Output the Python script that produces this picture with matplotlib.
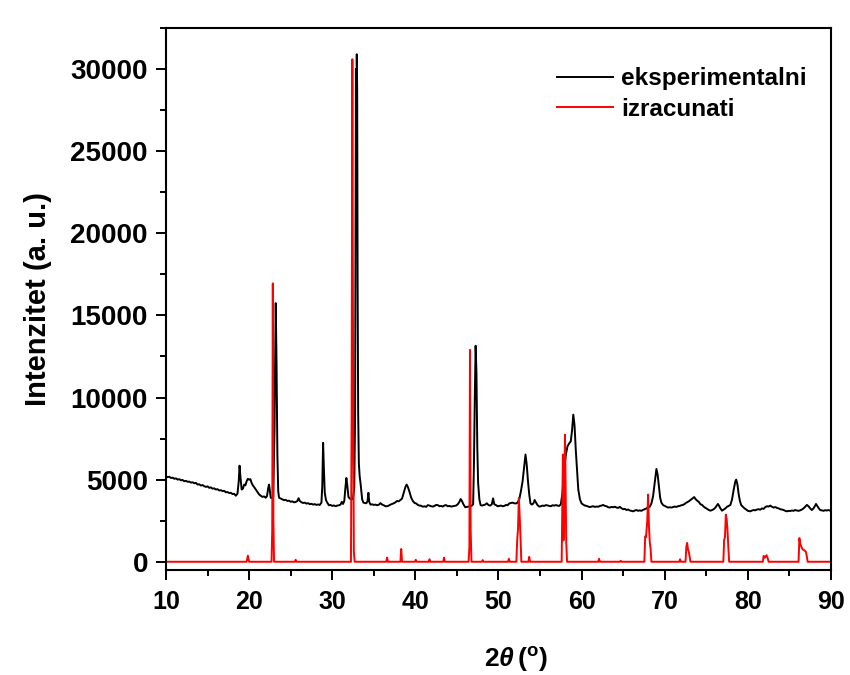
import matplotlib
matplotlib.use('Agg')
import matplotlib.pyplot as plt
from matplotlib.ticker import MultipleLocator

exp_x = [10.0, 10.2, 10.4, 10.6, 10.8, 11.0, 11.2, 11.4, 11.6, 11.8, 12.0, 12.2, 12.4, 12.6, 12.8,
         13.0, 13.2, 13.4, 13.6, 13.8, 14.0, 14.2, 14.4, 14.6, 14.8, 15.0, 15.2, 15.4, 15.6, 15.8,
         16.0, 16.2, 16.4, 16.6, 16.8, 17.0, 17.2, 17.4, 17.6, 17.8, 18.0, 18.2, 18.4, 18.6, 18.75,
         18.85, 18.95, 19.1, 19.25, 19.4, 19.55, 19.7, 19.85, 20.0, 20.15, 20.3, 20.45, 20.6, 20.8,
         21.0, 21.2, 21.4, 21.6, 21.8, 22.0, 22.15, 22.3, 22.4, 22.5, 22.6, 22.75, 22.9, 23.05, 23.2,
         23.3, 23.4, 23.5, 23.6, 23.8, 24.0, 24.2, 24.4, 24.6, 24.8, 25.0, 25.2, 25.4, 25.6, 25.8,
         25.95, 26.1, 26.3, 26.5, 26.7, 26.9, 27.1, 27.3, 27.5, 27.7, 27.9, 28.1, 28.3, 28.5, 28.7,
         28.8, 28.9, 29.0, 29.1, 29.25, 29.4, 29.6, 29.8, 30.0, 30.2, 30.4, 30.6, 30.8, 31.0, 31.15,
         31.3, 31.45, 31.6, 31.7, 31.8, 31.95, 32.1, 32.3, 32.5, 32.65, 32.75, 32.85, 32.9, 32.95, 33.0,
         33.05, 33.12, 33.2, 33.3, 33.4, 33.5, 33.6, 33.75, 33.9, 34.1, 34.25, 34.35, 34.45, 34.6, 34.8,
         35.0, 35.2, 35.4, 35.6, 35.8, 36.0, 36.2, 36.4, 36.6, 36.8, 37.0, 37.2, 37.4, 37.6, 37.8,
         38.0, 38.2, 38.4, 38.6, 38.8, 38.95, 39.1, 39.3, 39.5, 39.7, 39.9, 40.1, 40.3, 40.5, 40.7,
         40.9, 41.1, 41.3, 41.5, 41.7, 41.9, 42.1, 42.3, 42.5, 42.7, 42.9, 43.1, 43.3, 43.5, 43.7,
         43.9, 44.1, 44.3, 44.5, 44.7, 44.9, 45.1, 45.3, 45.45, 45.6, 45.8, 46.0, 46.2, 46.4, 46.6,
         46.8, 46.95, 47.05, 47.15, 47.25, 47.35, 47.45, 47.55, 47.7, 47.85, 48.0, 48.2, 48.4, 48.6, 48.8,
         49.0, 49.2, 49.35, 49.5, 49.7, 49.9, 50.1, 50.3, 50.5, 50.7, 50.9, 51.1, 51.3, 51.5, 51.7,
         51.9, 52.1, 52.3, 52.5, 52.7, 52.9, 53.1, 53.25, 53.4, 53.55, 53.7, 53.85, 54.0, 54.2, 54.35,
         54.5, 54.7, 54.9, 55.1, 55.3, 55.5, 55.7, 55.9, 56.1, 56.3, 56.5, 56.7, 56.9, 57.1, 57.3,
         57.5, 57.7, 57.9, 58.1, 58.3, 58.5, 58.7, 58.85, 59.0, 59.15, 59.3, 59.45, 59.6, 59.8, 60.0,
         60.2, 60.4, 60.6, 60.8, 61.0, 61.2, 61.4, 61.6, 61.8, 62.0, 62.2, 62.4, 62.6, 62.8, 63.0,
         63.2, 63.4, 63.6, 63.8, 64.0, 64.2, 64.4, 64.6, 64.8, 65.0, 65.2, 65.4, 65.6, 65.8, 66.0,
         66.2, 66.4, 66.6, 66.8, 67.0, 67.2, 67.4, 67.6, 67.8, 68.0, 68.2, 68.4, 68.6, 68.8, 69.0,
         69.15, 69.3, 69.45, 69.6, 69.8, 70.0, 70.2, 70.4, 70.6, 70.8, 71.0, 71.2, 71.4, 71.6, 71.8,
         72.0, 72.2, 72.4, 72.6, 72.8, 73.0, 73.2, 73.4, 73.55, 73.7, 73.9, 74.1, 74.3, 74.5, 74.7,
         74.9, 75.1, 75.3, 75.5, 75.7, 75.9, 76.1, 76.3, 76.4, 76.55, 76.7, 76.9, 77.1, 77.3, 77.5,
         77.7, 77.9, 78.1, 78.3, 78.5, 78.6, 78.75, 78.9, 79.05, 79.2, 79.4, 79.6, 79.8, 80.0, 80.3,
         80.5, 80.7, 80.9, 81.1, 81.3, 81.5, 81.7, 81.9, 82.1, 82.3, 82.5, 82.7, 82.9, 83.1, 83.3,
         83.5, 83.7, 83.9, 84.1, 84.3, 84.5, 84.7, 84.9, 85.1, 85.3, 85.5, 85.7, 85.9, 86.1, 86.3,
         86.5, 86.7, 86.9, 87.1, 87.3, 87.5, 87.7, 87.9, 88.1, 88.2, 88.35, 88.5, 88.7, 88.9, 89.1,
         89.3, 89.5, 89.7, 89.9, 90.0]
exp_y = [5200, 5150, 5180, 5100, 5120, 5050, 5080, 5000, 5030, 4960, 4980, 4900, 4930, 4870, 4880,
         4820, 4840, 4780, 4800, 4700, 4720, 4640, 4670, 4600, 4560, 4590, 4500, 4530, 4450, 4470,
         4400, 4420, 4340, 4360, 4300, 4320, 4230, 4250, 4180, 4200, 4120, 4140, 4020, 4150, 4900,
         5850, 5200, 4400, 4450, 4700, 4650, 4900, 5050, 5000, 5030, 4800, 4650, 4550, 4400,
         4250, 4100, 4020, 3950, 3980, 3900, 4000, 4500, 4700, 4300, 3900, 3880, 3950, 8000, 15750,
         12000, 6500, 4300, 3900, 3850, 3800, 3750, 3770, 3700, 3720, 3650, 3680, 3620, 3640, 3700,
         3870, 3700, 3620, 3580, 3600, 3540, 3570, 3500, 3530, 3480, 3510, 3460, 3490, 3460, 3600,
         4600, 7240, 5600, 4200, 3750, 3600, 3440, 3460, 3400, 3430, 3380, 3420, 3440, 3480, 3650,
         3520, 3700, 4600, 5100, 4700, 3950, 3850, 3800, 3850, 4500, 9000, 30000, 22000, 30900, 28700,
         17200, 9000, 6000, 5200, 4800, 4300, 3800, 3600, 3580, 3560, 3700, 4200, 3650, 3480, 3500,
         3460, 3480, 3440, 3470, 3570, 3480, 3440, 3380, 3380, 3420, 3480, 3520, 3560, 3620, 3700,
         3680, 3760, 3850, 4200, 4550, 4700, 4550, 4250, 3900, 3700, 3580, 3550, 3460, 3420, 3410,
         3350, 3380, 3340, 3450, 3420, 3380, 3360, 3400, 3460, 3450, 3380, 3400, 3360, 3430, 3450,
         3380, 3400, 3360, 3380, 3400, 3420, 3500, 3650, 3820, 3700, 3480, 3320, 3340, 3360, 3380,
         3420, 3500, 6000, 10000, 13150, 11500, 7000, 4800, 3800, 3450, 3420, 3450, 3480, 3560, 3450,
         3420, 3500, 3860, 3500, 3450, 3380, 3400, 3420, 3380, 3400, 3460, 3440, 3550, 3580, 3600,
         3560, 3550, 3600, 3800, 4300, 4900, 5800, 6530, 5900, 4900, 4100, 3550, 3480, 3550, 3760,
         3620, 3450, 3360, 3380, 3420, 3400, 3450, 3430, 3400, 3380, 3440, 3420, 3450, 3420, 3400,
         3500, 4200, 5600, 6500, 7030, 7200, 7340, 8000, 8960, 8300, 6800, 5600, 4400, 3800, 3550,
         3480, 3420, 3400, 3360, 3330, 3360, 3380, 3340, 3360, 3350, 3400, 3420, 3460, 3400, 3380,
         3320, 3300, 3340, 3320, 3350, 3300, 3280, 3340, 3260, 3200, 3220, 3150, 3180, 3120, 3100,
         3070, 3120, 3150, 3100, 3130, 3100, 3160, 3200, 3250, 3300, 3350, 3550, 4000, 4800, 5650,
         5300, 4600, 3900, 3600, 3450, 3400, 3350, 3300, 3320, 3300, 3330, 3360, 3340, 3380, 3400,
         3440, 3460, 3520, 3600, 3650, 3720, 3800, 3880, 3940, 3820, 3720, 3650, 3500, 3460, 3350,
         3280, 3220, 3150, 3110, 3150, 3200, 3300, 3450, 3520, 3400, 3250, 3110, 3180, 3250, 3350,
         3400, 3460, 3800, 4400, 4900, 5000, 4700, 4100, 3700, 3450, 3350, 3250, 3180, 3100, 3070,
         3120, 3150, 3130, 3180, 3200, 3170, 3250, 3220, 3330, 3380, 3360, 3420, 3350, 3300, 3330,
         3280, 3250, 3200, 3180, 3150, 3100, 3070, 3100, 3090, 3120, 3100, 3150, 3120, 3100, 3130,
         3180, 3250, 3350, 3460, 3380, 3250, 3150, 3250, 3420, 3520, 3400, 3280, 3150, 3130, 3100,
         3140, 3120, 3150, 3110, 3120]

# calculated pattern
calc_x = [10.0, 19.7, 19.85, 20.0, 22.7, 22.78, 22.85, 22.92, 23.0, 25.5, 25.6, 25.7,
          32.25, 32.33, 32.38, 32.42, 32.47, 32.52, 32.6, 32.7, 36.5, 36.6, 36.7,
          38.2, 38.3, 38.4, 39.95, 40.05, 40.15, 41.6, 41.7, 41.8, 43.35, 43.45, 43.55,
          46.4, 46.5, 46.57, 46.65, 46.75, 48.0, 48.1, 48.2, 51.15, 51.25, 51.35,
          52.15, 52.25, 52.35, 52.45, 52.55, 52.65, 52.75, 53.6, 53.7, 53.8,
          57.6, 57.68, 57.75, 57.82, 57.9, 58.0, 58.08, 58.15, 58.25, 62.0, 62.1, 62.2,
          64.6, 64.7, 64.8, 67.55, 67.65, 67.75, 67.9, 68.0, 68.1, 68.2, 68.3, 68.4,
          71.75, 71.85, 71.95, 72.5, 72.6, 72.7, 72.8, 72.9, 73.0, 73.1,
          77.05, 77.15, 77.25, 77.35, 77.45, 77.55, 77.65, 77.75,
          81.8, 81.9, 82.05, 82.25, 82.4, 82.5,
          86.1, 86.2, 86.3, 86.45, 86.6, 86.8, 87.0, 87.1, 87.2, 90.0]
calc_y = [0, 0, 370, 0, 0, 2000, 16950, 2500, 0, 0, 120, 0,
          0, 8500, 21500, 30600, 19400, 9000, 600, 0, 0, 250, 0,
          0, 780, 0, 0, 120, 0, 0, 150, 0, 0, 250, 0,
          0, 900, 12900, 2000, 0, 0, 100, 0, 0, 180, 0,
          0, 1300, 2000, 3880, 2800, 1500, 0, 0, 300, 0,
          0, 3500, 6530, 1300, 3000, 7740, 4500, 1200, 0, 0, 180, 0,
          0, 60, 0, 0, 1550, 1500, 2500, 4090, 2200, 1200, 800, 0,
          0, 150, 0, 0, 900, 1150, 750, 600, 300, 0,
          0, 1340, 1500, 2870, 2600, 1950, 900, 0,
          0, 360, 250, 400, 200, 0,
          0, 1440, 1100, 900, 750, 700, 600, 300, 0, 0]

labels = ['eksperimentalni', 'izracunati']

plt.rcParams['font.family'] = ['Liberation Sans', 'DejaVu Sans']
plt.rcParams['font.weight'] = 'bold'
plt.rcParams['mathtext.fontset'] = 'custom'
plt.rcParams['mathtext.rm'] = 'Liberation Sans'
plt.rcParams['mathtext.it'] = 'Liberation Sans:italic'
plt.rcParams['mathtext.bf'] = 'Liberation Sans:bold'

fig = plt.figure(figsize=(8.5, 6.75), dpi=100)
ax = fig.add_axes([0.1953, 0.1556, 0.7823, 0.8029])

ax.plot(exp_x, exp_y, color='black', lw=1.4, label=labels[0])
ax.plot(calc_x, calc_y, color='red', lw=1.4, label=labels[1])

ax.set_xlim(10, 90)
ax.set_ylim(-500, 32500)
ax.xaxis.set_major_locator(MultipleLocator(10))
ax.xaxis.set_minor_locator(MultipleLocator(5))
ax.yaxis.set_major_locator(MultipleLocator(5000))
ax.yaxis.set_minor_locator(MultipleLocator(2500))
ax.tick_params(which='major', direction='out', length=7.5, width=1.4)
ax.tick_params(which='minor', direction='out', length=4.5, width=1.4)
ax.tick_params(axis='y', labelsize=20, pad=5.5)
ax.tick_params(axis='x', labelsize=18, pad=7)
for s in ax.spines.values():
    s.set_linewidth(1.5)

ax.set_xlabel(r'$\mathbf{2}\mathit{\theta}\,(^{\mathrm{o}})$', fontsize=19)
ax.xaxis.set_label_coords(0.526, -0.138)
ax.set_ylabel('Intenzitet (a. u.)', fontsize=21, fontweight='bold', labelpad=13)

ax.legend(loc='upper left', bbox_to_anchor=(0.555, 0.968), frameon=False, fontsize=17.5,
          handlelength=2.3, handletextpad=0.35, labelspacing=0.3)

fig.savefig('out.png', dpi=100)
